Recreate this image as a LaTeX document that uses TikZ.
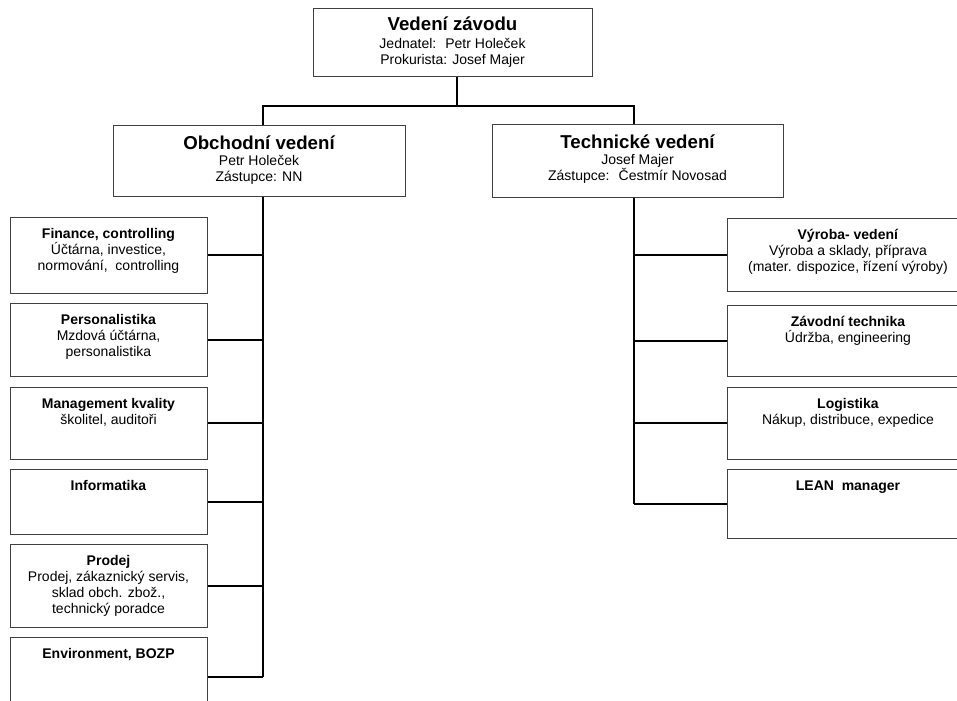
\documentclass[tikz,border=0pt]{standalone}
\usepackage{fontspec}
\setmainfont{Liberation Sans}
\usepackage{tikz}
\usetikzlibrary{positioning,calc}
\newcommand{\cell}[4][15.75pt]{\parbox[c][#3][t]{#2}{\centering\rule{0pt}{#1}#4}}
\newcommand{\headline}[1]{{\fontsize{14}{14}\selectfont\bfseries #1}}

\begin{document}
\begin{tikzpicture}[
x=0.75pt, y=-0.75pt,
unit/.style={draw=black!75, line width=0.75pt, inner sep=0pt, fill=white, font=\fontsize{10.5}{12}\selectfont},
link/.style={line width=1.5pt, black},
]
\useasboundingbox (0,0) rectangle (957,700);
\clip (0,0) rectangle (957,700);

\node[unit] (top) at (452.5,42) {\cell[17pt]{209.25pt}{51pt}{\headline{Vedení závodu}\\[1pt]
  Jednatel:~ Petr Holeček\\ Prokurista: Josef Majer}};
\node[unit] (obch) at (259,160.5) {\cell[18.5pt]{219pt}{53.25pt}{\headline{Obchodní vedení}\\
  Petr Holeček\\ Zástupce: NN}};
\node[unit] (tech) at (637.5,160.5) {\cell[18.5pt]{218.25pt}{54.75pt}{\headline{Technické vedení}\\
  Josef Majer\\ Zástupce:~ Čestmír Novosad}};

\node[unit] (fin) at (108.5,255) {\cell{147.75pt}{57pt}{\textbf{Finance, controlling}\\
  Účtárna, investice,\\ normování,~ controlling}};
\node[unit] (pers) at (108.5,339.5) {\cell{147.75pt}{54.75pt}{\textbf{Personalistika}\\
  Mzdová účtárna,\\ personalistika}};
\node[unit] (qual) at (108.5,423) {\cell{147.75pt}{54pt}{\textbf{Management kvality}\\
  školitel, auditoři}};
\node[unit] (it) at (108.5,501.5) {\cell{147.75pt}{48.75pt}{\textbf{Informatika}}};
\node[unit] (sales) at (108.5,585.5) {\cell{147.75pt}{62.25pt}{\textbf{Prodej}\\
  Prodej, zákaznický servis,\\ sklad obch. zbož.,\\ technický poradce}};
\node[unit] (env) at (108.5,677) {\cell{147.75pt}{60pt}{\textbf{Environment, BOZP}}};

\node[unit] (prod) at (848,254.5) {\cell{181.5pt}{54.75pt}{\textbf{Výroba- vedení}\\
  Výroba a sklady, příprava\\ (mater. dispozice, řízení výroby)}};
\node[unit] (plant) at (848,340.5) {\cell{181.5pt}{53.25pt}{\textbf{Závodní technika}\\
  Údržba, engineering}};
\node[unit] (log) at (848,423) {\cell{181.5pt}{54pt}{\textbf{Logistika}\\
  Nákup, distribuce, expedice}};
\node[unit] (lean) at (848,503.5) {\cell{181.5pt}{51.75pt}{\textbf{LEAN~ manager}}};

\coordinate (hub) at (457,106);
\coordinate (lbus) at (263,106);
\coordinate (rbus) at (633.5,106);

\draw[link] (hub |- top.south) -- (hub);
\draw[link] (lbus |- obch.north) -- (lbus) -- (rbus) -- (rbus |- tech.north);
\draw[link] (lbus |- obch.south) -- (lbus |- env.east);
\draw[link] (rbus |- tech.south) -- (rbus |- lean.west);
\foreach \n in {fin,pers,qual,it,sales,env}
  \draw[link] (\n.east) -- (\n.east -| lbus);
\foreach \n in {prod,plant,log,lean}
  \draw[link] (\n.west) -- (\n.west -| rbus);
\end{tikzpicture}
\end{document}
